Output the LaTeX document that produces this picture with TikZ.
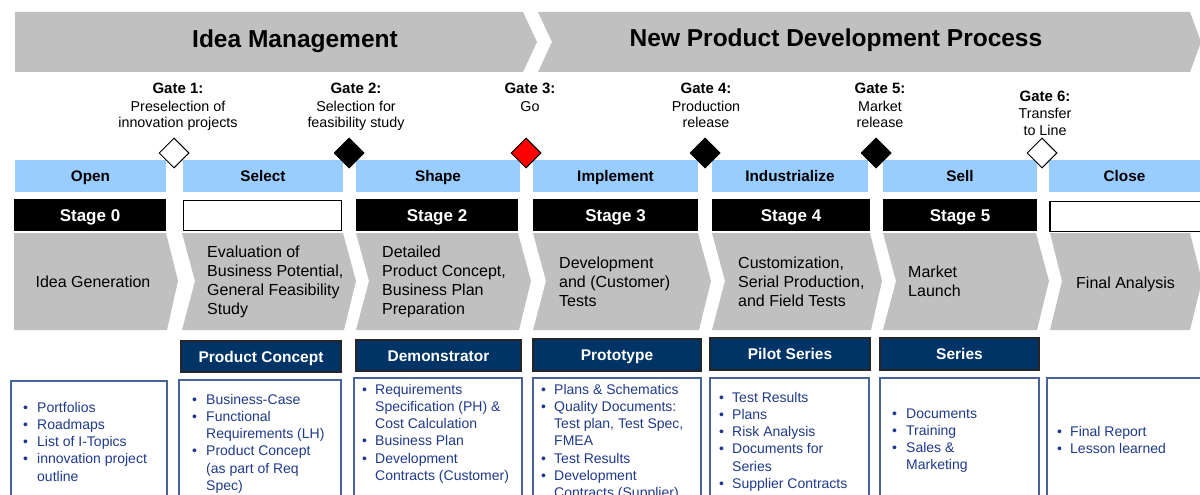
\documentclass[tikz,border=0pt]{standalone}
\usepackage{fontspec}
\setmainfont{Liberation Sans}
\usetikzlibrary{shapes.geometric}
\definecolor{phaseblue}{HTML}{99CCFF}
\definecolor{chevgray}{HTML}{C0C0C0}
\definecolor{navy}{HTML}{003366}
\definecolor{conttext}{HTML}{1F3A8A}
\definecolor{contline}{HTML}{46649A}
\newcommand\blist[4]{%
  \foreach \b/\t [count=\i from 0] in {#4} {%
    \ifnum\b=1 \node[ctext, anchor=base west] at (#1, #3+17.3*\i) {\textbullet};\fi
    \node[ctext, anchor=base west] at (#2, #3+17.3*\i) {\t};
  }}
\newcommand\glines[4]{%
  \node[gatehd, anchor=base] at (#1,#2) {#3};
  \foreach \t [count=\i] in {#4} {\node[gatetxt, anchor=base] at (#1, #2+17*\i) {\t};}}
\newcommand\chlines[4]{%
  \foreach \t [count=\i from 0] in {#4} {\node[chtext, anchor=base west] at (#1, #2+#3*\i) {\t};}}
\begin{document}
\begin{tikzpicture}[x=1pt,y=-1pt,
  banner/.style={fill=chevgray},
  bannertext/.style={font=\bfseries\fontsize{24.5}{28}\selectfont, inner sep=0},
  gatehd/.style={font=\bfseries\fontsize{15}{17}\selectfont, inner sep=0},
  gatetxt/.style={font=\fontsize{14.3}{16}\selectfont, inner sep=0},
  gateopen/.style={diamond, draw=black, line width=1pt, fill=white, minimum size=30pt, inner sep=0},
  gateclosed/.style={diamond, draw=black, line width=1pt, fill=black, minimum size=30pt, inner sep=0},
  gatego/.style={diamond, draw=black, line width=1pt, fill=red, minimum size=30pt, inner sep=0},
  phasebox/.style={fill=phaseblue, inner sep=0, minimum height=32pt, text height=13.8pt, text depth=3pt, font=\bfseries\fontsize{15.3}{18}\selectfont},
  stagebox/.style={fill=black, text=white, inner sep=0, minimum height=32pt, text height=15.2pt, text depth=3pt, font=\bfseries\fontsize{17}{20}\selectfont},
  stageempty/.style={fill=white, draw=black, line width=1.5pt, inner sep=0, minimum height=30pt},
  chev/.style={fill=chevgray},
  chtext/.style={font=\fontsize{16}{19}\selectfont, inner sep=0},
  delivbox/.style={fill=navy, draw=black!85, line width=1.2pt, text=white, inner sep=0, minimum height=31pt, text height=14.1pt, text depth=3pt, font=\bfseries\fontsize{15.5}{18}\selectfont},
  contbox/.style={draw=contline, line width=1.5pt, fill=white},
  ctext/.style={text=conttext, font=\fontsize{14}{17}\selectfont, inner sep=0}
]
\useasboundingbox (0,0) rectangle (1200,495);
\clip (0,0) rectangle (1200,495);

% top banners
\fill[banner] (15,12) -- (523,12) -- (537,42) -- (523,72) -- (15,72) -- cycle;
\fill[banner] (538,12) -- (1190,12) -- (1201,42) -- (1190,72) -- (538,72) -- (552,42) -- cycle;
\node[bannertext] (idea) at (295,41) {Idea Management};
\node[bannertext] (npdp) at (836,40) {New Product Development Process};

% gate labels
\glines{178}{94}{Gate 1:}{Preselection of,innovation projects}
\glines{356}{94}{Gate 2:}{Selection for,feasibility study}
\glines{530}{94}{Gate 3:}{Go}
\glines{706}{94}{Gate 4:}{Production,release}
\glines{880}{94}{Gate 5:}{Market,release}
\glines{1045}{101}{Gate 6:}{Transfer,to Line}

% phase headers
\node[phasebox, minimum width=151pt] (open) at (90.5,176) {Open};
\node[phasebox, minimum width=160pt] (select) at (263,176) {Select};
\node[phasebox, minimum width=164pt] (shape) at (438,176) {Shape};
\node[phasebox, minimum width=165pt] (implement) at (615.5,176) {Implement};
\node[phasebox, minimum width=156pt] (industrialize) at (790,176) {Industrialize};
\node[phasebox, minimum width=154pt] (sell) at (960,176) {Sell};
\node[phasebox, minimum width=151pt] (close) at (1124.5,176) {Close};

% stage row
\node[stagebox, minimum width=152pt] (s0) at (90,215) {Stage 0};
\node[stageempty, minimum width=158pt] (s1) at (262.5,215.5) {};
\node[stagebox, minimum width=162pt] (s2) at (437,215) {Stage 2};
\node[stagebox, minimum width=165pt] (s3) at (615.5,215) {Stage 3};
\node[stagebox, minimum width=158pt] (s4) at (791,215) {Stage 4};
\node[stagebox, minimum width=154pt] (s5) at (960,215) {Stage 5};
\node[stageempty, minimum width=160pt] (s6) at (1130,216.5) {};

% gates (diamonds)
\node[gateopen] (g1) at (174,153) {};
\node[gateclosed] (g2) at (349,153) {};
\node[gatego] (g3) at (526,153) {};
\node[gateclosed] (g4) at (705,153) {};
\node[gateclosed] (g5) at (876,153) {};
\node[gateopen] (g6) at (1042,153) {};

% chevrons
\fill[chev] (14,233) -- (166,233) -- (178,281) -- (167,330) -- (14,330) -- cycle;
\fill[chev] (182,233) -- (343,233) -- (356,281) -- (344,330) -- (182,330) -- (195,281) -- cycle;
\fill[chev] (356,233) -- (518,233) -- (531,281) -- (519,330) -- (356,330) -- (369,281) -- cycle;
\fill[chev] (533,233) -- (698,233) -- (711,281) -- (699,330) -- (533,330) -- (546,281) -- cycle;
\fill[chev] (712,233) -- (870,233) -- (882,281) -- (871,330) -- (712,330) -- (725,281) -- cycle;
\fill[chev] (883,233) -- (1036,233) -- (1049,281) -- (1037,330) -- (883,330) -- (896,281) -- cycle;
\fill[chev] (1050,233) -- (1190,233) -- (1202,281) -- (1190,330) -- (1050,330) -- (1062,281) -- cycle;

\node[chtext, anchor=base] (c0) at (93,287) {Idea Generation};
\chlines{207}{257}{19.3}{Evaluation of,{Business Potential,},{General Feasibility},Study}
\chlines{382}{257}{19.3}{Detailed,{Product Concept,},Business Plan,Preparation}
\chlines{559}{268}{19.3}{Development,and (Customer),Tests}
\chlines{738}{268}{19.3}{{Customization,},{Serial Production,},and Field Tests}
\chlines{908}{277}{19.3}{Market,Launch}
\node[chtext, anchor=base west] (c6) at (1076,288) {Final Analysis};

% deliverable headers
\node[delivbox, minimum width=160pt] (d1) at (261,356.5) {Product Concept};
\node[delivbox, minimum width=165pt] (d2) at (438.5,355.5) {Demonstrator};
\node[delivbox, minimum width=168pt, minimum height=32pt] (d3) at (617,355) {Prototype};
\node[delivbox, minimum width=160pt, minimum height=32pt] (d4) at (790,354) {Pilot Series};
\node[delivbox, minimum width=159pt, minimum height=32pt] (d5) at (959.5,354) {Series};

% content boxes
\draw[contbox] (11,381) rectangle (167,510);
\draw[contbox] (179,380) rectangle (341,510);
\draw[contbox] (354,378) rectangle (522,510);
\draw[contbox] (533,378) rectangle (701,510);
\draw[contbox] (710,378) rectangle (869,510);
\draw[contbox] (880,378) rectangle (1039,510);
\draw[contbox] (1047,378) rectangle (1215,510);

\blist{23}{37}{412}{1/Portfolios,1/Roadmaps,1/List of I-Topics,1/innovation project,0/outline}
\blist{192}{206}{404}{1/Business-Case,1/Functional,0/Requirements (LH),1/Product Concept,0/(as part of Req,0/Spec)}
\blist{362}{375}{394}{1/Requirements,0/Specification (PH) \&,0/Cost Calculation,1/Business Plan,1/Development,0/Contracts (Customer)}
\blist{541}{554}{394}{1/Plans \& Schematics,1/Quality Documents:,0/{Test plan, Test Spec,},0/FMEA,1/Test Results,1/Development,0/Contracts (Supplier)}
\blist{719}{732}{402}{1/Test Results,1/Plans,1/Risk Analysis,1/Documents for,0/Series,1/Supplier Contracts}
\blist{892}{906}{418}{1/Documents,1/Training,1/Sales \&,0/Marketing}
\blist{1057}{1070}{436}{1/Final Report,1/Lesson learned}
\end{tikzpicture}
\end{document}
